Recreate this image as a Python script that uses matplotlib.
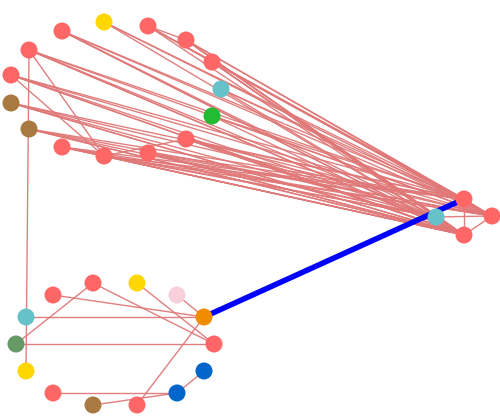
import matplotlib
matplotlib.use("Agg")
import matplotlib.pyplot as plt

# node layout (pixel-like coordinates of the network drawing)
node_names = [
    # upper ring
    "A", "B", "C", "D", "E", "F", "G", "H", "I", "J", "K", "L", "M", "N", "O",
    # right group
    "P", "Q", "R", "S",
    # lower ring
    "a", "b", "c", "d", "e", "f", "g", "h", "i", "j", "k", "l", "m", "n",
]
node_x = [62, 104, 148, 186, 212, 221, 212, 186, 148, 104, 62, 29, 11, 11, 29,
          464, 492, 464, 436,
          53, 93, 137, 177, 204, 214, 204, 177, 137, 93, 53, 26, 16, 26]
node_y = [31, 22, 26, 40, 62, 89, 116, 139, 153, 156, 147, 129, 103, 75, 50,
          199, 216, 235, 217,
          295, 283, 283, 295, 317, 344, 371, 393, 405, 405, 393, 371, 344, 317]
node_colors = ["#ff6666", "#ffd700", "#ff6666", "#ff6666", "#ff6666", "#66c2c9",
               "#22bb33", "#ff6666", "#ff6666", "#ff6666", "#ff6666", "#a87a42",
               "#a87a42", "#ff6666", "#ff6666",
               "#ff6666", "#ff6666", "#ff6666", "#66c2c9",
               "#ff6666", "#ff6666", "#ffd700", "#f7d0dc", "#f08c00", "#ff6666",
               "#0066cc", "#0066cc", "#ff6666", "#a87a42", "#ff6666", "#ffd700",
               "#669966", "#66c2c9"]

top_ring = ["A", "B", "C", "D", "E", "F", "G", "H", "I", "J", "K", "L", "M", "N", "O"]
extra_top = ["J", "L", "M", "I", "H", "K", "D", "E", "N", "A", "O"]

edges = []
for s in top_ring:
    for t in ["P", "Q", "R"]:
        edges.append((s, t))
for s in extra_top:
    edges.append((s, "S"))
    edges.append((s, "R"))
edges += [("O", "J"), ("N", "J"), ("K", "J"), ("C", "D"), ("C", "E"),
          ("J", "H"), ("O", "l"),
          ("P", "Q"), ("Q", "R"), ("P", "R"), ("S", "Q"), ("S", "R"),
          ("a", "e"), ("b", "m"), ("b", "f"), ("c", "f"), ("d", "e"),
          ("n", "e"), ("m", "f"), ("e", "i"), ("k", "h"), ("j", "h"),
          ("h", "g")]
bridge = [("e", "P")]

pos = {n: (x, y) for n, x, y in zip(node_names, node_x, node_y)}

fig = plt.figure(figsize=(5, 4.16), dpi=100)
ax = fig.add_axes([0, 0, 1, 1])

for s, t in edges:
    ax.plot([pos[s][0], pos[t][0]], [pos[s][1], pos[t][1]],
            color="#e07878", linewidth=1.0, alpha=0.95, zorder=1)
for s, t in bridge:
    ax.plot([pos[s][0], pos[t][0]], [pos[s][1], pos[t][1]],
            color="#0000ff", linewidth=4, zorder=2)

ax.scatter(node_x, node_y, s=150, c=node_colors, edgecolors="none", zorder=3)

ax.set_xlim(0, 500)
ax.set_ylim(416, 0)
ax.axis("off")

fig.savefig("out.png", dpi=100)
